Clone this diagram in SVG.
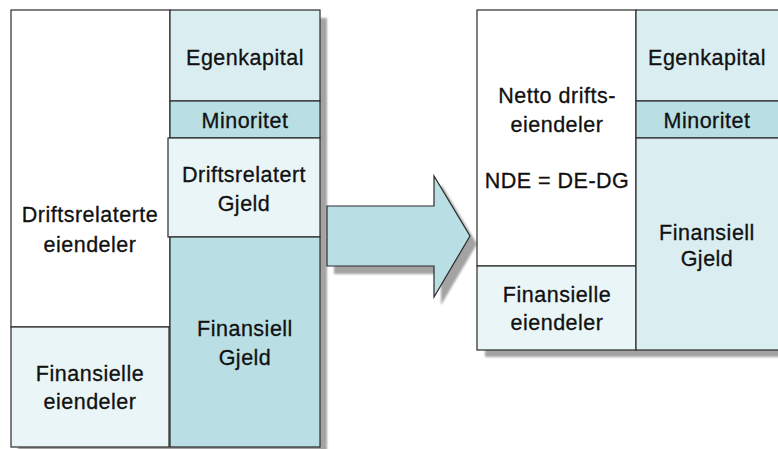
<svg xmlns="http://www.w3.org/2000/svg" width="778" height="449" viewBox="0 0 778 449">
  <defs>
    <filter id="soft" x="-5%" y="-5%" width="110%" height="110%">
      <feGaussianBlur stdDeviation="0.8"/>
    </filter>
  </defs>
  <style>
    .box { stroke: #2a2a2a; stroke-width: 1.2; }
    .white { fill: #ffffff; }
    .light { fill: #daedf1; }
    .mid { fill: #b9dfe4; }
    .pale { fill: #e9f5f6; }
    .shadow { fill: #a3a3a3; filter: url(#soft); }
    text { font-family: "Liberation Sans", Arial, sans-serif; font-size: 21.5px; fill: #111; stroke: #111; stroke-width: 0.3; text-anchor: middle; letter-spacing: 0.5px; }
  </style>
  <rect width="778" height="449" fill="#ffffff"/>

  <!-- drop shadows behind the two balance sheets -->
  <rect class="shadow" x="18" y="18" width="309" height="440"/>
  <rect class="shadow" x="485" y="18" width="300" height="339"/>

  <!-- left balance sheet -->
  <g id="driftsrelaterte-eiendeler">
    <rect class="box white" x="11" y="10" width="159" height="317"/>
    <text x="90" y="222">Driftsrelaterte</text>
    <text x="90" y="252">eiendeler</text>
  </g>
  <g id="finansielle-eiendeler-1">
    <rect class="box pale" x="11" y="327" width="158" height="120"/>
    <text x="90" y="381">Finansielle</text>
    <text x="90" y="409">eiendeler</text>
  </g>
  <g id="egenkapital-1">
    <rect class="box light" x="170" y="10" width="150" height="91"/>
    <text x="245" y="65">Egenkapital</text>
  </g>
  <g id="minoritet-1">
    <rect class="box mid" x="170" y="101" width="150" height="37"/>
    <text x="245" y="128">Minoritet</text>
  </g>
  <g id="driftsrelatert-gjeld">
    <rect class="box pale" x="168" y="138" width="152" height="99"/>
    <text x="244" y="182">Driftsrelatert</text>
    <text x="244" y="211">Gjeld</text>
  </g>
  <g id="finansiell-gjeld-1">
    <rect class="box mid" x="170" y="237" width="150" height="210"/>
    <text x="245" y="336">Finansiell</text>
    <text x="245" y="365">Gjeld</text>
  </g>

  <!-- block arrow between the two sheets -->
  <g id="connectors">
    <polygon class="shadow" points="334,214 441,214 441,184 477,244 441,305 441,274 334,274"/>
    <polygon points="327,206 434,206 434,176 470,236 434,297 434,266 327,266" fill="#b9dfe4" stroke="#2a2a2a" stroke-width="1.2" stroke-linejoin="miter"/>
  </g>

  <!-- right balance sheet -->
  <g id="netto-driftseiendeler">
    <rect class="box white" x="477" y="10" width="159" height="256"/>
    <text x="557" y="103">Netto drifts-</text>
    <text x="557" y="132">eiendeler</text>
    <text x="557" y="188" letter-spacing="0.3">NDE = DE-DG</text>
  </g>
  <g id="finansielle-eiendeler-2">
    <rect class="box pale" x="477" y="266" width="159" height="84"/>
    <text x="557" y="302">Finansielle</text>
    <text x="557" y="330">eiendeler</text>
  </g>
  <g id="egenkapital-2">
    <rect class="box light" x="636" y="10" width="150" height="91"/>
    <text x="707" y="65">Egenkapital</text>
  </g>
  <g id="minoritet-2">
    <rect class="box mid" x="636" y="101" width="150" height="37"/>
    <text x="707" y="128">Minoritet</text>
  </g>
  <g id="finansiell-gjeld-2">
    <rect class="box light" x="636" y="138" width="150" height="212"/>
    <text x="707" y="240">Finansiell</text>
    <text x="707" y="266">Gjeld</text>
  </g>
</svg>
